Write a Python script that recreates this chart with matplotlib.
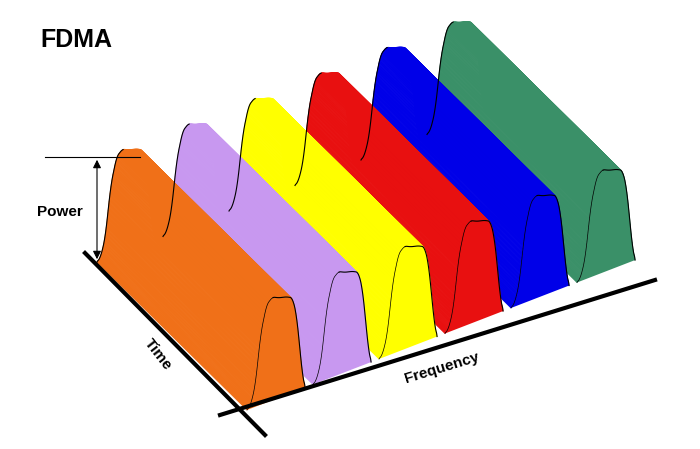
import numpy as np
import matplotlib
matplotlib.use("Agg")
import matplotlib.pyplot as plt
from matplotlib.patches import Polygon

colors = ["#f07018", "#c898f0", "#ffff00", "#e81010", "#0000e8", "#3a9068"]
channels = list(range(len(colors)))
prof_u = [0.0, 0.06, 0.14, 0.24, 0.34, 0.44, 0.55, 0.68, 0.78, 0.85, 0.91, 0.96, 1.0]
prof_p = [0.0, 0.03, 0.2, 0.7, 0.95, 1.0, 0.97, 0.95, 0.92, 0.75, 0.40, 0.10, 0.0]

ORIGIN = np.array([97.0, 262.0])
FVEC = np.array([66.0, -25.5])
TVEC = np.array([150.0, 148.0])
HEIGHT = 103.0
WIDTH = 0.88

def proj(f, t, p):
    return ORIGIN + f * FVEC + t * TVEC + np.array([0, -p * HEIGHT])

fig = plt.figure(figsize=(7, 4.49), dpi=100)
ax = fig.add_axes([0, 0, 1, 1])
ax.set_xlim(0, 700); ax.set_ylim(449, 0); ax.axis("off")

u = np.linspace(0, 1, 121)
p = np.interp(u, prof_u, prof_p)
k = np.ones(9) / 9
p = np.convolve(np.pad(p, 4, mode="edge"), k, mode="valid")
p[0] = p[-1] = 0

for c in reversed(channels):
    f = c + u * WIDTH
    back = np.array([proj(fi, 0, pi) for fi, pi in zip(f, p)])
    front = np.array([proj(fi, 1, pi) for fi, pi in zip(f, p)])
    for i in range(len(u) - 1):
        quad = [back[i], back[i + 1], front[i + 1], front[i]]
        ax.add_patch(Polygon(quad, closed=True, fc=colors[c], ec=colors[c], lw=0.6))
    ax.add_patch(Polygon(front, closed=True, fc=colors[c], ec="none"))
    j = int(np.argmax(p))
    ax.plot(back[:j + 1, 0], back[:j + 1, 1], color="black", lw=0.8)
    ax.plot(front[:j + 1, 0], front[:j + 1, 1], color="black", lw=0.5)
    ax.plot(front[j:, 0], front[j:, 1], color="black", lw=0.8)

ax.plot([85, 265], [253, 435], color="black", lw=3)
ax.plot([220, 655], [415, 280], color="black", lw=3)
ax.plot([45, 140], [157, 157], color="black", lw=0.8)
ax.annotate("", xy=(97, 157), xytext=(97, 262),
            arrowprops=dict(arrowstyle="<|-|>", color="black", lw=0.8, mutation_scale=12))

ax.text(40, 40, "FDMA", fontsize=18, fontweight="bold", va="center", ha="left", family="Liberation Sans")
ax.text(37, 212, "Power", fontsize=11, fontweight="bold", va="center", ha="left", family="Liberation Sans")
ax.text(158, 355, "Time", fontsize=11, fontweight="bold", va="center", ha="center", rotation=-52, family="Liberation Sans")
ax.text(442, 368, "Frequency", fontsize=11, fontweight="bold", va="center", ha="center", rotation=17, family="Liberation Sans")

fig.savefig("out.png", dpi=100)
